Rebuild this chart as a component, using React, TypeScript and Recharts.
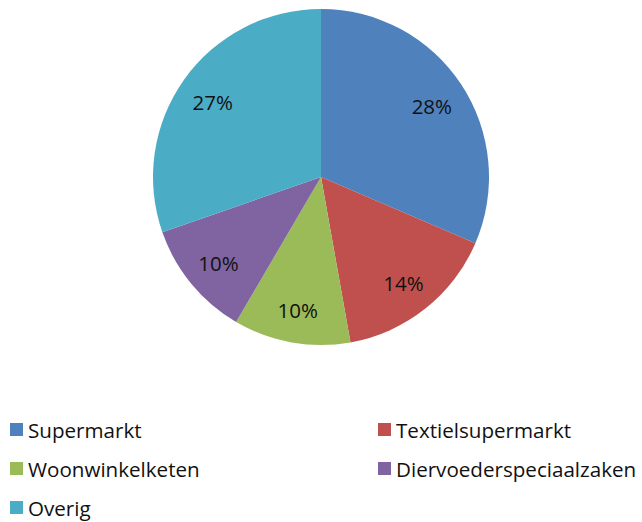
import React from 'react';
import { PieChart, Pie, Cell, Legend } from 'recharts';

const categories = ['Supermarkt', 'Textielsupermarkt', 'Woonwinkelketen', 'Diervoederspeciaalzaken', 'Overig'];
const shares = [28, 14, 10, 10, 27];
const colors = ['#4F81BD', '#C0504D', '#9BBB59', '#8064A2', '#4BACC6'];

const data = categories.map((name, i) => ({ name, value: shares[i] }));

const RADIAN = Math.PI / 180;
const FONT = "'Open Sans', sans-serif";

const renderLabel = (props: any) => {
  const { cx, cy, midAngle, outerRadius, value } = props;
  const r = outerRadius * 0.79;
  const x = cx + r * Math.cos(-midAngle * RADIAN);
  const y = cy + r * Math.sin(-midAngle * RADIAN) + 2;
  return (
    <text x={x} y={y} fill='#111' textAnchor='middle' dominantBaseline='central' fontSize={20.5} fontFamily={FONT}>
      {value}%
    </text>
  );
};

const renderLegend = () => (
  <div style={{ display: 'grid', gridTemplateColumns: '368px 274px', fontFamily: FONT, fontSize: 20.6, color: '#111' }}>
    {categories.map((name, i) => (
      <div key={name} style={{ display: 'flex', alignItems: 'center', height: 39, paddingLeft: 10 }}>
        <span style={{ width: 13, height: 13, background: colors[i], marginRight: 5, display: 'inline-block' }} />
        <span>{name}</span>
      </div>
    ))}
  </div>
);

export default function App() {
  return (
    <div style={{ position: 'absolute', left: 0, top: 0 }}>
      <PieChart width={642} height={522} margin={{ top: 0, right: 0, bottom: 0, left: 0 }}>
        <Pie
          data={data}
          dataKey='value'
          cx={321}
          cy={177}
          outerRadius={168}
          startAngle={90}
          endAngle={-270}
          stroke='none'
          labelLine={false}
          label={renderLabel}
          isAnimationActive={false}
        >
          {data.map((d, i) => (
            <Cell key={d.name} fill={colors[i]} />
          ))}
        </Pie>
        <Legend content={renderLegend} wrapperStyle={{ left: 0, top: 410, width: 642 }} />
      </PieChart>
    </div>
  );
}
